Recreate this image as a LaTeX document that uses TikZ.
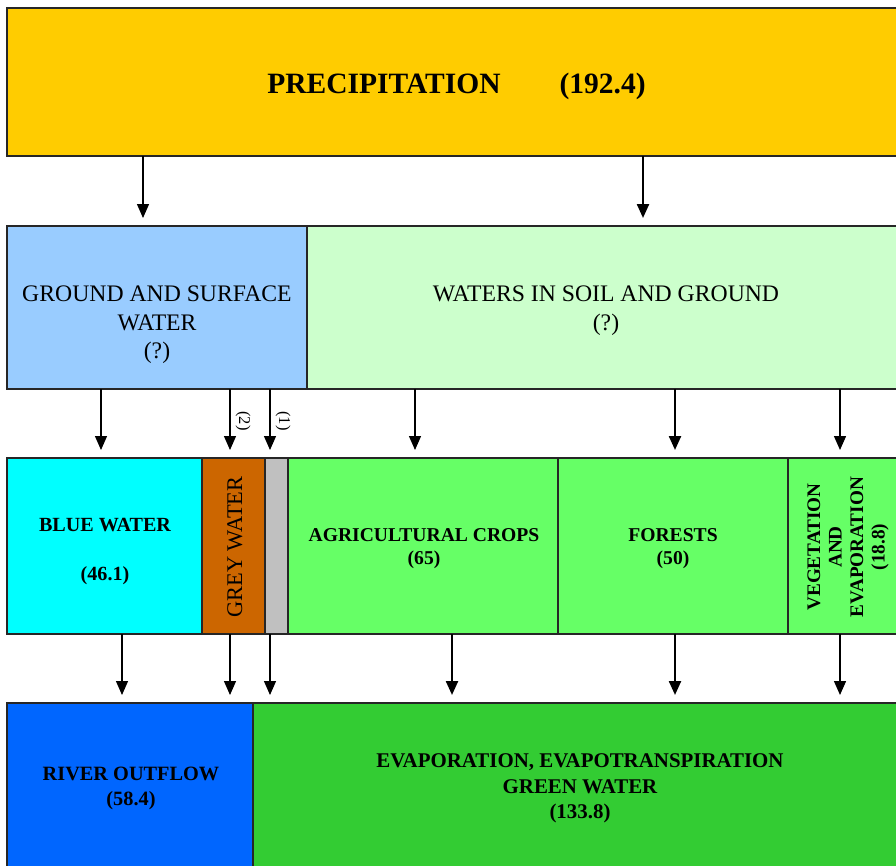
\documentclass[tikz,border=0pt]{standalone}
\usepackage{fontspec}
\setmainfont{Liberation Serif}
\usetikzlibrary{arrows.meta}
\definecolor{cPrec}{HTML}{FFCC00}
\definecolor{cGround}{HTML}{99CCFF}
\definecolor{cSoil}{HTML}{CCFFCC}
\definecolor{cBlue}{HTML}{00FFFF}
\definecolor{cGreyW}{HTML}{CC6600}
\definecolor{cGrey}{HTML}{C0C0C0}
\definecolor{cGreen}{HTML}{66FF66}
\definecolor{cRiver}{HTML}{0066FF}
\definecolor{cEvap}{HTML}{33CC33}
\begin{document}
\begin{tikzpicture}[x=1pt,y=-1pt,
  box/.style={draw=black!85,line width=1.2pt,inner sep=0pt,outer sep=0pt},
  lbl/.style={inner sep=0pt,align=center,text=black},
  bigB/.style={font=\fontsize{29.5}{33}\selectfont\bfseries},
  regT/.style={font=\fontsize{23.7}{28.5}\selectfont},
  midB/.style={font=\fontsize{19.6}{23}\selectfont\bfseries},
  blueB/.style={font=\fontsize{20.1}{23}\selectfont\bfseries},
  rivB/.style={font=\fontsize{20.3}{25.5}\selectfont\bfseries},
  evB/.style={font=\fontsize{20.9}{25.5}\selectfont\bfseries},
  vegB/.style={font=\fontsize{19.2}{21.5}\selectfont\bfseries},
  greyT/.style={font=\fontsize{22.4}{24}\selectfont},
  smallT/.style={font=\fontsize{16.5}{18}\selectfont},
  thinarr/.style={line width=1.3pt,-{Triangle[width=12pt,length=14pt]},shorten >=8pt},
  thickarr/.style={line width=2.3pt,-{Triangle[width=12pt,length=14pt]},shorten >=8pt}]
\useasboundingbox (0,0) rectangle (896,865);
\clip (0,0) rectangle (896,865);
\fill[white] (0,0) rectangle (896,865);
% row 1
\node[box,fill=cPrec,minimum width=898pt,minimum height=148pt] (p) at (456,82) {};
\node[lbl,bigB] (pt) at (456.5,86.5) {PRECIPITATION\hspace{59pt}(192.4)};
% row 2
\node[box,fill=cGround,minimum width=300pt,minimum height=163pt] (gs) at (157,307.5) {};
\node[lbl,regT] (gst) at (157,325) {GROUND AND SURFACE\\WATER\\(?)};
\node[box,fill=cSoil,minimum width=598pt,minimum height=163pt] (ws) at (606,307.5) {};
\node[lbl,regT] (wst) at (606,310.5) {WATERS IN SOIL AND GROUND\\(?)};
% row 3
\node[box,fill=cBlue,minimum width=195pt,minimum height=176pt] (bw) at (104.5,546) {};
\node[lbl,blueB] (bwt) at (105,551) {BLUE WATER\\[26pt](46.1)};
\node[box,fill=cGreyW,minimum width=63pt,minimum height=176pt] (gw) at (233.5,546) {};
\node[lbl,greyT,rotate=90] (gwt) at (235,547) {GREY WATER};
\node[box,fill=cGrey,minimum width=23pt,minimum height=176pt] (gr) at (276.5,546) {};
\node[box,fill=cGreen,minimum width=270pt,minimum height=176pt] (ag) at (423,546) {};
\node[lbl,midB] (agt) at (424,549) {AGRICULTURAL CROPS\\(65)};
\node[box,fill=cGreen,minimum width=230pt,minimum height=176pt] (fo) at (673,546) {};
\node[lbl,midB] (fot) at (673,549) {FORESTS\\(50)};
\node[box,fill=cGreen,minimum width=117pt,minimum height=176pt] (vg) at (846.5,546) {};
\node[lbl,vegB,rotate=90] (vgt) at (848,547) {VEGETATION\\AND\\EVAPORATION\\(18.8)};
% row 4
\node[box,fill=cRiver,minimum width=246pt,minimum height=165pt] (ro) at (130,785.5) {};
\node[lbl,rivB] (rot) at (131,788.5) {RIVER OUTFLOW\\(58.4)};
\node[box,fill=cEvap,minimum width=652pt,minimum height=165pt] (ev) at (579,785.5) {};
\node[lbl,evB] (evt) at (580,788.5) {EVAPORATION, EVAPOTRANSPIRATION\\GREEN WATER\\(133.8)};
% arrow columns
\coordinate (c143) at (143,0);
\coordinate (c643) at (643,0);
\coordinate (c101) at (101,0);
\coordinate (c230) at (230,0);
\coordinate (c270) at (270,0);
\coordinate (c415) at (415,0);
\coordinate (c675) at (675,0);
\coordinate (c840) at (840,0);
\coordinate (c122) at (122,0);
\coordinate (c452) at (452,0);
% arrows row 1 -> 2
\draw[thinarr] (p.south -| c143) -- (gs.north -| c143);
\draw[thickarr] (p.south -| c643) -- (ws.north -| c643);
% arrows row 2 -> 3
\draw[thinarr] (gs.south -| c101) -- (bw.north -| c101);
\draw[thinarr] (gs.south -| c230) -- (gw.north -| c230);
\draw[thinarr] (gs.south -| c270) -- (gr.north -| c270);
\draw[thinarr] (ws.south -| c415) -- (ag.north -| c415);
\draw[thickarr] (ws.south -| c675) -- (fo.north -| c675);
\draw[thinarr] (ws.south -| c840) -- (vg.north -| c840);
\node[lbl,smallT,rotate=-90] (l2) at (243,421) {(2)};
\node[lbl,smallT,rotate=-90] (l1) at (283,421) {(1)};
% arrows row 3 -> 4
\draw[thinarr] (bw.south -| c122) -- (ro.north -| c122);
\draw[thinarr] (gw.south -| c230) -- (ro.north -| c230);
\draw[thinarr] (gr.south -| c270) -- (ro.north -| c270);
\draw[thickarr] (ag.south -| c452) -- (ev.north -| c452);
\draw[thickarr] (fo.south -| c675) -- (ev.north -| c675);
\draw[thinarr] (vg.south -| c840) -- (ev.north -| c840);
\end{tikzpicture}
\end{document}
